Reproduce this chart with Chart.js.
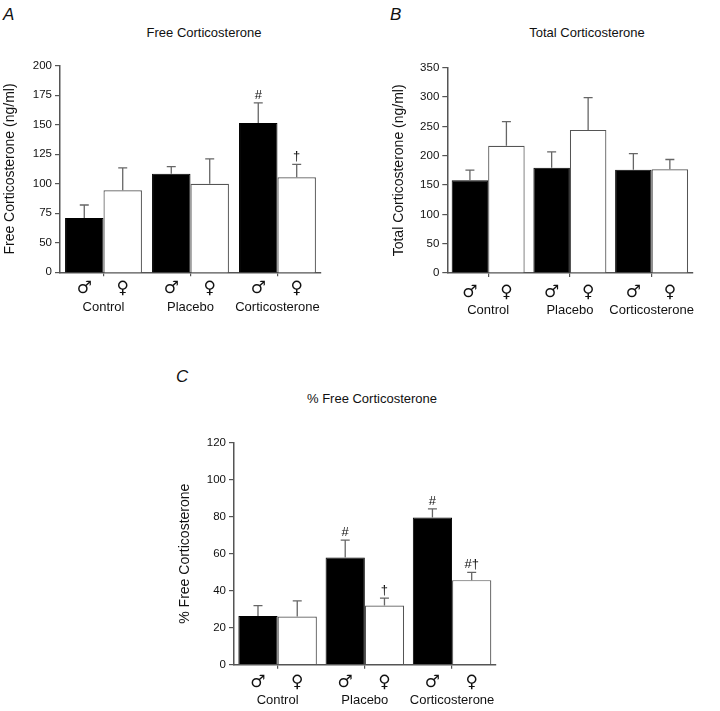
<!DOCTYPE html>
<html>
<head>
<meta charset="utf-8">
<script src="https://cdn.jsdelivr.net/npm/chart.js@4.4.3/dist/chart.umd.min.js"></script>
<style>
  body { margin: 0; background: #fff; width: 720px; height: 711px; position: relative; overflow: hidden;
         font-family: "Liberation Sans", Arial, sans-serif; color: #111; }
  canvas { position: absolute; }
  .lbl { position: absolute; font-size: 13px; white-space: nowrap; transform: translate(-50%, -50%); }
  .panel { position: absolute; font-size: 17px; font-style: italic; }
</style>
</head>
<body>
<div class="panel" style="left:3px;top:5px">A</div>
<div class="panel" style="left:390px;top:5px">B</div>
<div class="panel" style="left:176px;top:367px">C</div>
<div class="lbl" style="left:204px;top:32px">Free Corticosterone</div>
<div class="lbl" style="left:587px;top:32px">Total Corticosterone</div>
<div class="lbl" style="left:372px;top:398px">% Free Corticosterone</div>
<canvas id="free" width="345" height="270" style="left:0;top:50px"></canvas>
<canvas id="total" width="360" height="270" style="left:360px;top:50px"></canvas>
<canvas id="pct" width="350" height="301" style="left:170px;top:410px"></canvas>
<script>
const groups = ['Control', 'Placebo', 'Corticosterone'];
const sexSymbols = ['\u2642', '\u2640'];

// free corticosterone (ng/ml), mean and SEM
const freeMale = [71, 108.5, 151.5];
const freeMaleSem = [11, 6, 17];
const freeFemale = [94.5, 100, 105.5];
const freeFemaleSem = [19, 21, 11];
const freeMaleMarks = ['', '', '#'];
const freeFemaleMarks = ['', '', '\u2020'];

// total corticosterone (ng/ml)
const totalMale = [158, 179.5, 176];
const totalMaleSem = [17.5, 27, 27.5];
const totalFemale = [217, 244, 177];
const totalFemaleSem = [41, 55, 16.5];

// % free corticosterone
const pctMale = [26.3, 58, 79.6];
const pctMaleSem = [5.6, 9.3, 4.6];
const pctFemale = [26, 32, 45.7];
const pctFemaleSem = [8.5, 4, 4.2];
const pctMaleMarks = ['', '#', '#'];
const pctFemaleMarks = ['', '\u2020', '#\u2020'];

const FONT = '"Liberation Sans", Arial, sans-serif';
const AXIS = '#555';

const errorBars = {
  id: 'errorBars',
  afterDatasetsDraw(chart) {
    const { ctx } = chart;
    const y = chart.scales.y;
    ctx.save();
    chart.data.datasets.forEach((ds, i) => {
      chart.getDatasetMeta(i).data.forEach((bar, j) => {
        const top = y.getPixelForValue(ds.data[j] + ds.sem[j]);
        ctx.strokeStyle = '#666';
        ctx.lineWidth = 1.3;
        ctx.beginPath();
        ctx.moveTo(bar.x, bar.y);
        ctx.lineTo(bar.x, top);
        ctx.moveTo(bar.x - 4.5, top);
        ctx.lineTo(bar.x + 4.5, top);
        ctx.stroke();
        const mark = ds.marks ? ds.marks[j] : '';
        if (mark) {
          ctx.fillStyle = '#111';
          ctx.font = '13px ' + FONT;
          ctx.textAlign = 'center';
          ctx.textBaseline = 'alphabetic';
          ctx.fillText(mark, bar.x, top - 4);
        }
      });
    });
    ctx.restore();
  },
  afterDraw(chart, args, opts) {
    const { ctx } = chart;
    const xs = chart.scales.x;
    ctx.save();
    ctx.fillStyle = '#111';
    ctx.font = '17px "DejaVu Sans", sans-serif';
    ctx.textAlign = 'center';
    ctx.textBaseline = 'middle';
    chart.data.datasets.forEach((ds, i) => {
      chart.getDatasetMeta(i).data.forEach((bar) => {
        ctx.fillText(sexSymbols[i], bar.x, xs.top + opts.symOffset);
      });
    });
    ctx.restore();
  }
};

function makeChart(id, cfg) {
  return new Chart(document.getElementById(id), {
    type: 'bar',
    data: {
      labels: groups,
      datasets: [
        { label: 'male', data: cfg.male, sem: cfg.maleSem, marks: cfg.maleMarks,
          backgroundColor: '#000', borderColor: '#000', borderWidth: 1 },
        { label: 'female', data: cfg.female, sem: cfg.femaleSem, marks: cfg.femaleMarks,
          backgroundColor: '#fff', borderColor: AXIS, borderWidth: 1.2 },
      ],
    },
    options: {
      responsive: false,
      animation: false,
      devicePixelRatio: 1,
      layout: { padding: cfg.padding },
      datasets: { bar: { barPercentage: 1, categoryPercentage: cfg.catPct, borderSkipped: 'bottom' } },
      plugins: { legend: { display: false }, tooltip: { enabled: false }, errorBars: { symOffset: cfg.symOffset } },
      scales: {
        x: {
          offset: true,
          grid: { offset: false, drawOnChartArea: false, tickLength: 4, color: AXIS, lineWidth: 1.2 },
          border: { color: AXIS, width: 1.5 },
          ticks: { color: '#111', font: { family: FONT, size: 13 }, padding: cfg.labelPad, maxRotation: 0 },
          afterFit: (s) => { s.height = cfg.xHeight; },
        },
        y: {
          min: cfg.min,
          max: cfg.max,
          grid: { drawOnChartArea: false, tickLength: 5, color: AXIS, lineWidth: 1.2 },
          border: { color: AXIS, width: 1.5 },
          ticks: {
            stepSize: cfg.step, color: '#111', padding: 3, font: { family: FONT, size: 11.5 },
            callback: cfg.tickFmt || ((v) => v),
          },
          title: { display: true, text: cfg.title, color: '#111', font: { family: FONT, size: 14 },
                   padding: { top: cfg.titlePad, bottom: 0 } },
          afterFit: (s) => { s.width = cfg.yWidth; },
        },
      },
    },
    plugins: [errorBars],
  });
}

// the free panel's axis is broken: its bottom is labelled 0 where 25 would be
makeChart('free', {
  male: freeMale, maleSem: freeMaleSem, maleMarks: freeMaleMarks,
  female: freeFemale, femaleSem: freeFemaleSem, femaleMarks: freeFemaleMarks,
  min: 25, max: 200, step: 25, tickFmt: (v) => (v === 25 ? '0' : v),
  title: 'Free Corticosterone (ng/ml)', titlePad: 1.6,
  padding: { left: 0, top: 15.7, right: 13.5, bottom: 0 },
  yWidth: 60, xHeight: 47.7, catPct: 0.884, labelPad: 23, symOffset: 16,
});

makeChart('total', {
  male: totalMale, maleSem: totalMaleSem,
  female: totalFemale, femaleSem: totalFemaleSem,
  min: 0, max: 350, step: 50,
  title: 'Total Corticosterone (ng/ml)', titlePad: 0.9,
  padding: { left: 30, top: 17.7, right: 0.7, bottom: 0 },
  yWidth: 57.3, xHeight: 47, catPct: 0.893, labelPad: 26, symOffset: 20,
});

makeChart('pct', {
  male: pctMale, maleSem: pctMaleSem, maleMarks: pctMaleMarks,
  female: pctFemale, femaleSem: pctFemaleSem, femaleMarks: pctFemaleMarks,
  min: 0, max: 120, step: 20,
  title: '% Free Corticosterone', titlePad: 1.6,
  padding: { left: 5, top: 32.7, right: 10, bottom: 0 },
  yWidth: 59, xHeight: 46.3, catPct: 0.9, labelPad: 24, symOffset: 18,
});
</script>
</body>
</html>
